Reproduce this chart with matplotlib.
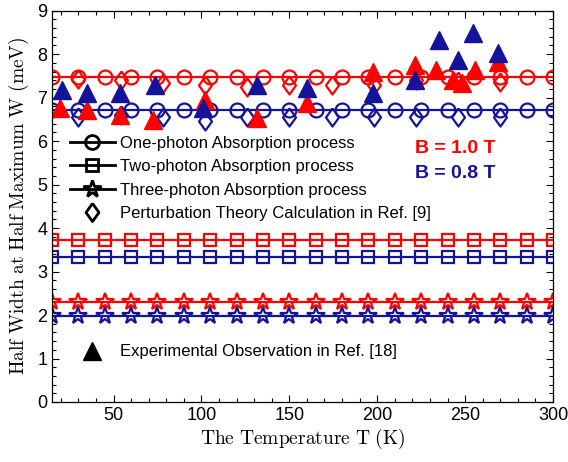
import numpy as np
import matplotlib
matplotlib.use('Agg')
import matplotlib.pyplot as plt
from matplotlib.lines import Line2D
from matplotlib.ticker import MultipleLocator

plt.rcParams['font.family'] = ['Liberation Sans', 'DejaVu Sans']
plt.rcParams['mathtext.fontset'] = 'cm'

RED = '#ff0000'
BLUE = '#14149a'
DIAMOND = [(0, 1), (0.72, 0), (0, -1), (-0.72, 0), (0, 1)]  # MATLAB-like tall diamond

# theory curves (flat in T), markers every 15 K
T_theory = np.arange(15, 301, 15)
one_photon_10 = 7.48
one_photon_08 = 6.71
two_photon_10 = 3.73
two_photon_08 = 3.34
three_photon_10 = 2.29
three_photon_08 = 1.97

# perturbation theory, Ref. [9]
T_pert = [30, 54, 78, 102, 126, 150, 174, 198, 222, 246, 270]
pert_10 = [7.42, 7.41, 7.34, 7.29, 7.24, 7.29, 7.29, 7.29, 7.41, 7.38, 7.35]
pert_08 = [6.55, 6.60, 6.55, 6.47, 6.56, 6.56, 6.55, 6.55, 6.56, 6.55, 6.55]

# experiment, Ref. [18]
T_exp_10 = [19.5, 34.7, 53.7, 72.6, 102, 131.4, 159.8, 197.7, 221.4, 233.7, 243, 248, 255.5, 268.7]
exp_10 = [6.76, 6.72, 6.60, 6.49, 6.95, 6.53, 6.87, 7.60, 7.75, 7.64, 7.40, 7.33, 7.64, 7.83]
T_exp_08 = [20.5, 35.1, 53.8, 73.6, 101, 131.4, 159.8, 197.7, 221.4, 235.2, 246, 254.5, 268.7]
exp_08 = [7.18, 7.10, 7.10, 7.29, 6.76, 7.29, 7.22, 7.10, 7.41, 8.33, 7.87, 8.48, 8.02]

fig = plt.figure(figsize=(5.68, 4.62), dpi=100)
ax = fig.add_axes([52 / 568, 1 - 402 / 462, 501 / 568, 391.3 / 462])

n = len(T_theory)
lw = 1.6
mfc = 'none'
for val, c in [(one_photon_10, RED), (one_photon_08, BLUE)]:
    ax.plot(T_theory, [val] * n, '-o', color=c, lw=lw, ms=10, mfc=mfc, mew=1.6)
for val, c in [(two_photon_10, RED), (two_photon_08, BLUE)]:
    ax.plot(T_theory, [val] * n, '-s', color=c, lw=lw, ms=9, mfc=mfc, mew=1.6)
for val, c in [(three_photon_10, RED), (three_photon_08, BLUE)]:
    ax.plot(T_theory, [val] * n, '-*', color=c, lw=lw, ms=13, mfc=mfc, mew=1.6)

ax.plot(T_pert, pert_10, marker=DIAMOND, color=RED, ms=13, mfc=mfc, mew=1.6, linestyle='none')
ax.plot(T_pert, pert_08, marker=DIAMOND, color=BLUE, ms=13, mfc=mfc, mew=1.6, linestyle='none')

ax.plot(T_exp_10, exp_10, '^', color=RED, ms=13, linestyle='none')
ax.plot(T_exp_08, exp_08, '^', color=BLUE, ms=13, linestyle='none')

ax.set_xlim(15, 300)
ax.set_ylim(0, 9)
ax.xaxis.set_major_locator(MultipleLocator(50))
ax.xaxis.set_minor_locator(MultipleLocator(10))
ax.yaxis.set_major_locator(MultipleLocator(1))
ax.yaxis.set_minor_locator(MultipleLocator(0.2))
ax.tick_params(which='both', direction='in', top=True, right=True, labelsize=13)
ax.tick_params(which='major', length=5, width=0.8)
ax.tick_params(which='minor', length=3, width=0.8)
for sp in ax.spines.values():
    sp.set_linewidth(0.9)

ax.set_xlabel(r'$\mathrm{The\ Temperature\ T\ (K)}$', fontsize=14, labelpad=2)
ax.set_ylabel(r'$\mathrm{Half\ Width\ at\ Half\ Maximum\ W\ (meV)}$', fontsize=14, labelpad=4)

handles = [
    Line2D([], [], color='k', lw=2, marker='o', ms=10, mfc='none', mew=2),
    Line2D([], [], color='k', lw=2, marker='s', ms=9, mfc='none', mew=2),
    Line2D([], [], color='k', lw=2, marker='*', ms=13, mfc='none', mew=2),
    Line2D([], [], color='k', lw=0, marker=DIAMOND, ms=13, mfc='none', mew=2),
]
labels = ['One-photon Absorption process', 'Two-photon Absorption process',
          'Three-photon Absorption process', 'Perturbation Theory Calculation in Ref. [9]']
leg1 = ax.legend(handles, labels, loc='upper left', bbox_to_anchor=(0.035, 0.68),
                 frameon=False, fontsize=12, handlelength=2.7, handletextpad=0.3,
                 labelspacing=0.5, borderpad=0, borderaxespad=0)
ax.add_artist(leg1)

h_exp = [Line2D([], [], color='k', lw=0, marker='^', ms=13)]
ax.legend(h_exp, ['Experimental Observation in Ref. [18]'], loc='upper left',
          bbox_to_anchor=(0.035, 0.147), frameon=False, fontsize=12,
          handlelength=2.7, handletextpad=0.3, borderpad=0, borderaxespad=0)

ax.text(0.725, 0.649, 'B = 1.0 T', transform=ax.transAxes, color=RED,
        fontsize=14, fontweight='bold', va='center')
ax.text(0.725, 0.585, 'B = 0.8 T', transform=ax.transAxes, color=BLUE,
        fontsize=14, fontweight='bold', va='center')

fig.savefig('out.png', dpi=100)
